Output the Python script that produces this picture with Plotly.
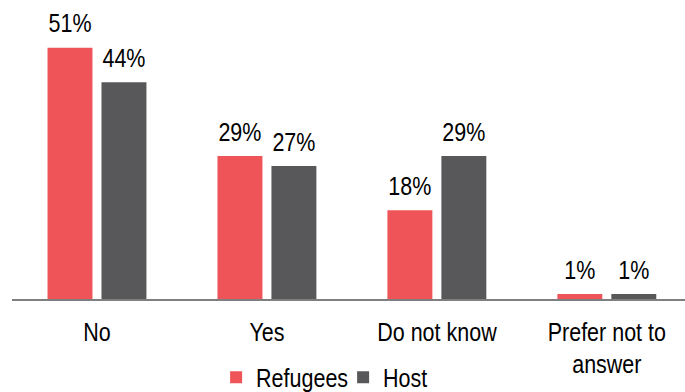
import plotly.graph_objects as go

categories = ["No", "Yes", "Do not know", "Prefer not to<br>answer"]
refugees = [51, 29, 18, 1]
host = [44, 27, 29, 1]
series_names = ["Refugees", "Host"]
colors = ["#EF5558", "#58585A"]

FONT = "Liberation Sans, Arial, sans-serif"
FS = 25

fig = go.Figure()
for name, vals, col in zip(series_names, [refugees, host], colors):
    fig.add_trace(go.Bar(
        x=categories, y=vals, name=name, offsetgroup=name,
        marker=dict(color=col, line=dict(width=0)),
        showlegend=True, hoverinfo="skip",
    ))
for name, vals in zip(series_names, [refugees, host]):
    fig.add_trace(go.Scatter(
        x=categories, y=vals, offsetgroup=name, mode="markers+text",
        marker=dict(size=13, opacity=0),
        text=[f"{v}%" for v in vals], textposition="top center",
        textfont=dict(size=FS, color="#000000", family=FONT),
        cliponaxis=False, showlegend=False, hoverinfo="skip",
    ))

fig.update_layout(
    width=685, height=392,
    margin=dict(l=12, r=0, t=28, b=93, autoexpand=False),
    paper_bgcolor="white", plot_bgcolor="white",
    barmode="group", bargap=0.365, bargroupgap=0.167,
    scattermode="group", scattergap=0.365,
    font=dict(family=FONT, size=FS, color="#000000"),
    showlegend=True,
    legend=dict(orientation="h", x=0.492, xanchor="center", y=-0.29, yanchor="middle",
                font=dict(size=FS, family=FONT), itemclick=False,
                tracegroupgap=0, entrywidth=82),
    xaxis=dict(range=[-0.5, 3.46], showline=True, linecolor="#7F7F7F", linewidth=1.5,
               ticks="", showgrid=False, zeroline=False, ticklabelstandoff=10,
               tickfont=dict(size=FS, family=FONT, color="#000000")),
    yaxis=dict(range=[0, 55], visible=False, showgrid=False, zeroline=False),
)

POST = """
(function(){
var gd = document.getElementById('{plot_id}');
document.body.style.margin = '0';
function sq(){
  gd.querySelectorAll('text').forEach(function(t){
    var cur = t.getAttribute('transform') || '';
    if (t.getAttribute('data-sqt') === cur && cur !== '') return;
    var b; try { b = t.getBBox(); } catch(e) { return; }
    if (!b || !b.width) return;
    var anc = t.getAttribute('text-anchor') || window.getComputedStyle(t).textAnchor || 'start';
    var ax = anc === 'middle' ? b.x + b.width/2 : (anc === 'end' ? b.x + b.width : b.x);
    var nt = cur + ' translate(' + ax + ',0) scale(0.86,1) translate(' + (-ax) + ',0)';
    t.setAttribute('transform', nt);
    t.setAttribute('data-sqt', nt);
  });
}
sq();
if (gd.on) gd.on('plotly_afterplot', sq);
setTimeout(sq, 50);
})();
"""

fig.write_html("out.html", post_script=POST, config={"displayModeBar": False})
